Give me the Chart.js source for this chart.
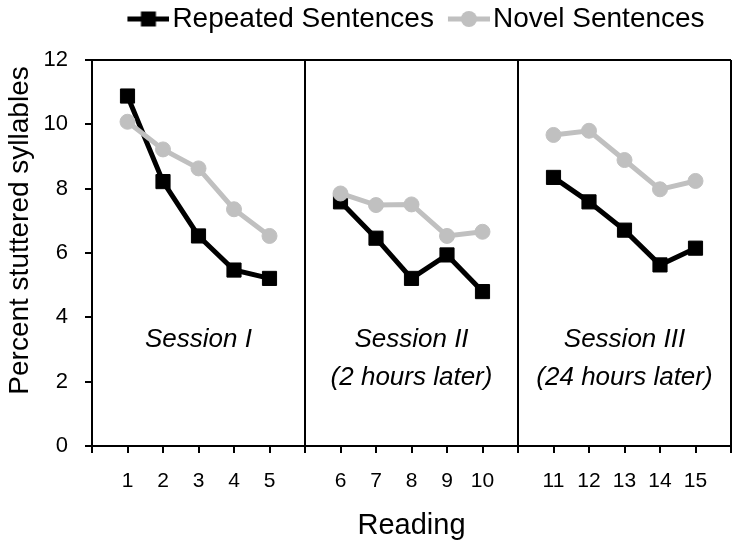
<!DOCTYPE html>
<html><head><meta charset="utf-8">
<script src="https://cdn.jsdelivr.net/npm/chart.js@4/dist/chart.umd.min.js"></script>
<style>html,body{margin:0;padding:0;background:#fff}#wrap{width:747px;height:550px}</style>
</head><body><div id="wrap"><canvas id="c" width="747" height="550"></canvas></div>
<script>
// ---- data ----
const readings = [1,2,3,4,5,6,7,8,9,10,11,12,13,14,15];
const repeatedSentences = [10.88, 8.22, 6.53, 5.47, 5.21, 7.59, 6.46, 5.21, 5.94, 4.80, 8.35, 7.59, 6.71, 5.63, 6.15];
const novelSentences    = [10.08, 9.22, 8.63, 7.36, 6.53, 7.85, 7.49, 7.51, 6.53, 6.66, 9.67, 9.80, 8.89, 7.98, 8.24];
const seriesNames = ['Repeated Sentences', 'Novel Sentences'];
const sessionNames = ['Session I', 'Session II', 'Session III'];
const sessionNotes = ['', '(2 hours later)', '(24 hours later)'];
const xTitle = 'Reading';
const yTitle = 'Percent stuttered syllables';
const readingsPerSession = 5;

// ---- layout helpers (category slots with one empty slot between sessions) ----
const slotsPerSession = readingsPerSession + 1;
const slotOf = i => i + 1 + Math.floor(i / readingsPerSession);
const nSessions = sessionNames.length;
const maxSlot = nSessions * slotsPerSession;

function buildPoints(values) {
  const pts = [];
  values.forEach((v, i) => {
    if (i > 0 && i % readingsPerSession === 0) pts.push({x: slotOf(i) - 1, y: null});
    pts.push({x: slotOf(i), y: v});
  });
  return pts;
}

const BLACK = '#000000', GREY = '#c0c0c0';
const FONT = '"Liberation Sans", Arial, Helvetica, sans-serif';
Chart.defaults.font.family = FONT;
Chart.defaults.color = '#000';

function legendImage(kind) {
  const c = document.createElement('canvas');
  c.width = 62; c.height = 22;
  const g = c.getContext('2d');
  g.strokeStyle = kind === 'rect' ? BLACK : GREY;
  g.fillStyle = g.strokeStyle;
  g.lineWidth = 5;
  g.beginPath(); g.moveTo(20, 11); g.lineTo(62, 11); g.stroke();
  if (kind === 'rect') { g.fillRect(41 - 7.5, 11 - 7.5, 15, 15); }
  else { g.beginPath(); g.arc(41, 11, 8, 0, Math.PI * 2); g.fill(); }
  return c;
}
const legendImgs = [legendImage('rect'), legendImage('circle')];

const legendHeightPlugin = {
  id: 'legendHeight',
  afterInit(chart) {
    const lg = chart.legend;
    if (lg) { const f = lg.fit.bind(lg); lg.fit = function(){ f(); this.height = 60; }; }
  }
};

const textPlugin = {
  id: 'texts',
  afterDatasetsDraw(chart) {
    const {ctx, scales: {x, y}, chartArea} = chart;
    ctx.save();
    ctx.fillStyle = '#000';
    ctx.textAlign = 'center';
    ctx.textBaseline = 'middle';
    ctx.font = 'italic 26px ' + FONT;
    sessionNames.forEach((name, s) => {
      const cx = x.getPixelForValue(s * slotsPerSession + slotsPerSession / 2);
      ctx.fillText(name, cx, y.getPixelForValue(3.3));
      if (sessionNotes[s]) ctx.fillText(sessionNotes[s], cx, y.getPixelForValue(2.12));
    });
    // y-axis title, placed slightly above the plot's vertical centre as in the reference
    ctx.font = '28px ' + FONT;
    ctx.translate(y.left + 20, y.getPixelForValue(6.7));
    ctx.rotate(-Math.PI / 2);
    ctx.fillText(yTitle, 0, 0);
    ctx.restore();
  }
};

const isSep = v => v % slotsPerSession === 0;

new Chart(document.getElementById('c'), {
  type: 'line',
  data: {
    datasets: [
      {
        label: seriesNames[0], data: buildPoints(repeatedSentences),
        borderColor: BLACK, backgroundColor: BLACK, borderWidth: 5,
        pointStyle: 'rect', pointRadius: 10, pointBorderWidth: 1,
        pointBackgroundColor: BLACK, pointBorderColor: BLACK,
        tension: 0, spanGaps: false, order: 2
      },
      {
        label: seriesNames[1], data: buildPoints(novelSentences),
        borderColor: GREY, backgroundColor: GREY, borderWidth: 5,
        pointStyle: 'circle', pointRadius: 7.5, pointBorderWidth: 1,
        pointBackgroundColor: GREY, pointBorderColor: GREY,
        tension: 0, spanGaps: false, order: 1
      }
    ]
  },
  options: {
    responsive: false, animation: false, devicePixelRatio: 1,
    layout: {padding: {top: 0, right: 11, bottom: 0, left: 0}},
    plugins: {
      tooltip: {enabled: false},
      legend: {
        position: 'top', fullSize: false,
        labels: {
          font: {size: 28}, color: '#000', padding: 5,
          usePointStyle: true, pointStyleWidth: 40, boxHeight: 20,
          generateLabels: () => seriesNames.map((t, i) => ({
            text: t, pointStyle: legendImgs[i], fillStyle: i ? GREY : BLACK,
            strokeStyle: i ? GREY : BLACK, lineWidth: 0, hidden: false,
            datasetIndex: i, fontColor: '#000'
          }))
        }
      }
    },
    scales: {
      x: {
        type: 'linear', min: 0, max: maxSlot, offset: false,
        afterFit: s => { s.height = 104; },
        ticks: {
          stepSize: 1, autoSkip: false, maxRotation: 0, padding: 16,
          font: {size: 21}, color: '#000',
          callback: v => isSep(v) ? '' : String(readings[v - 1 - Math.floor(v / slotsPerSession)])
        },
        grid: {
          drawOnChartArea: true, tickLength: 7, lineWidth: 2, tickColor: BLACK, tickWidth: 2,
          color: c => isSep(c.tick.value) ? BLACK : 'rgba(0,0,0,0)'
        },
        border: {display: true, color: BLACK, width: 2},
        title: {display: true, text: xTitle, font: {size: 29}, color: '#000', padding: {top: 0, bottom: 7}}
      },
      y: {
        min: 0, max: 12,
        afterFit: s => { s.width = 92; },
        ticks: {stepSize: 2, padding: 17, font: {size: 22}, color: '#000'},
        grid: {
          drawOnChartArea: true, tickLength: 7, lineWidth: 2, tickColor: BLACK, tickWidth: 2,
          color: c => c.tick.value === 12 ? BLACK : 'rgba(0,0,0,0)'
        },
        border: {display: true, color: BLACK, width: 2},
        title: {display: false}
      }
    }
  },
  plugins: [legendHeightPlugin, textPlugin]
});
</script>
</body></html>
